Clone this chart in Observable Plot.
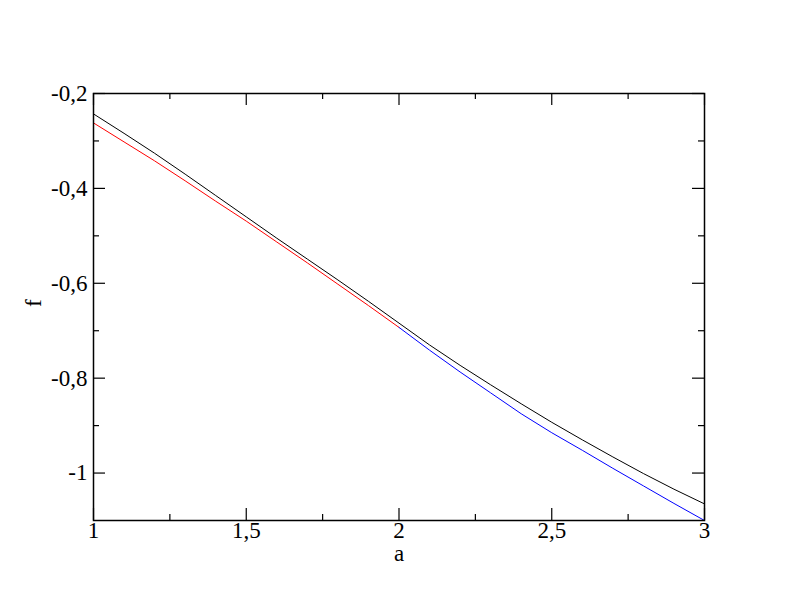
<!DOCTYPE html>
<html>
<head>
<meta charset="utf-8">
<script src="https://cdn.jsdelivr.net/npm/d3@7"></script>
<script src="https://cdn.jsdelivr.net/npm/@observablehq/plot@0.6"></script>
<style>
  html, body { margin: 0; padding: 0; background: #fff; }
  svg text { font-family: "Liberation Serif", "DejaVu Serif", serif !important; }
</style>
</head>
<body>
<div id="chart"></div>
<script>
// Data
const aBlack = [1.0, 1.1, 1.2, 1.3, 1.4, 1.5, 1.6, 1.7, 1.8, 1.9, 2.0, 2.1, 2.2, 2.3, 2.4, 2.5, 2.6, 2.7, 2.8, 2.9, 3.0];
const fBlack = [-0.243, -0.284, -0.326, -0.370, -0.415, -0.460, -0.505, -0.549, -0.593, -0.638, -0.684, -0.730, -0.773, -0.814, -0.854, -0.893, -0.930, -0.966, -1.001, -1.034, -1.065];
const aRed = [1.0, 1.1, 1.2, 1.3, 1.4, 1.5, 1.6, 1.7, 1.8, 1.9, 2.0];
const fRed = [-0.262, -0.302, -0.342, -0.384, -0.427, -0.469, -0.513, -0.557, -0.602, -0.647, -0.693];
const aBlue = [2.0, 2.1, 2.2, 2.3, 2.4, 2.5, 2.6, 2.7, 2.8, 2.9, 3.0];
const fBlue = [-0.693, -0.741, -0.787, -0.831, -0.875, -0.915, -0.952, -0.990, -1.027, -1.064, -1.100];

const xMajor = [1, 1.5, 2, 2.5, 3];
const xMinor = [1.25, 1.75, 2.25, 2.75];
const yMajor = [-0.2, -0.4, -0.6, -0.8, -1.0];
const yMinor = [-0.3, -0.5, -0.7, -0.9];
const xLabel = "a";
const yLabel = "f";

const toRows = (xs, ys) => xs.map((x, i) => ({x, y: ys[i]}));
const fmt = d => String(d).replace(".", ",");

const W = 792, H = 612;
const mL = 93, mR = 88, mT = 93, mB = 92;
const fw = W - mL - mR, fh = H - mT - mB;
const major = 12, minor = 6;
const FONT = "Liberation Serif";
const FS = 23;

const chart = Plot.plot({
  width: W,
  height: H,
  marginLeft: mL,
  marginRight: mR,
  marginTop: mT,
  marginBottom: mB,
  style: {background: "#fff", color: "#000"},
  x: {domain: [1, 3], axis: null},
  y: {domain: [-1.1, -0.2], axis: null},
  marks: [
    Plot.line(toRows(aBlack, fBlack), {x: "x", y: "y", stroke: "#000", strokeWidth: 1}),
    Plot.line(toRows(aRed, fRed), {x: "x", y: "y", stroke: "#ff0000", strokeWidth: 1}),
    Plot.line(toRows(aBlue, fBlue), {x: "x", y: "y", stroke: "#0000ff", strokeWidth: 1}),
    // inward ticks, bottom & top
    Plot.ruleX(xMajor, {insetTop: fh - major, stroke: "#000", strokeWidth: 1.2}),
    Plot.ruleX(xMajor, {insetBottom: fh - major, stroke: "#000", strokeWidth: 1.2}),
    Plot.ruleX(xMinor, {insetTop: fh - minor, stroke: "#000", strokeWidth: 1.2}),
    Plot.ruleX(xMinor, {insetBottom: fh - minor, stroke: "#000", strokeWidth: 1.2}),
    // inward ticks, left & right
    Plot.ruleY(yMajor, {insetRight: fw - major, stroke: "#000", strokeWidth: 1.2}),
    Plot.ruleY(yMajor, {insetLeft: fw - major, stroke: "#000", strokeWidth: 1.2}),
    Plot.ruleY(yMinor, {insetRight: fw - minor, stroke: "#000", strokeWidth: 1.2}),
    Plot.ruleY(yMinor, {insetLeft: fw - minor, stroke: "#000", strokeWidth: 1.2}),
    Plot.frame({stroke: "#000", strokeWidth: 1.5}),
    // tick labels
    Plot.text(xMajor, {x: d => d, frameAnchor: "bottom", dy: 17, text: fmt, fill: "#000", fontFamily: FONT, fontSize: FS}),
    Plot.text(yMajor, {y: d => d, frameAnchor: "left", dx: -6, textAnchor: "end", text: fmt, fill: "#000", fontFamily: FONT, fontSize: FS}),
    // axis labels
    Plot.text([xLabel], {frameAnchor: "bottom", dy: 40, text: d => d, fill: "#000", fontFamily: FONT, fontSize: FS}),
    Plot.text([yLabel], {frameAnchor: "left", dx: -60, rotate: -90, text: d => d, fill: "#000", fontFamily: FONT, fontSize: FS})
  ]
});
document.getElementById("chart").appendChild(chart);
</script>
</body>
</html>
